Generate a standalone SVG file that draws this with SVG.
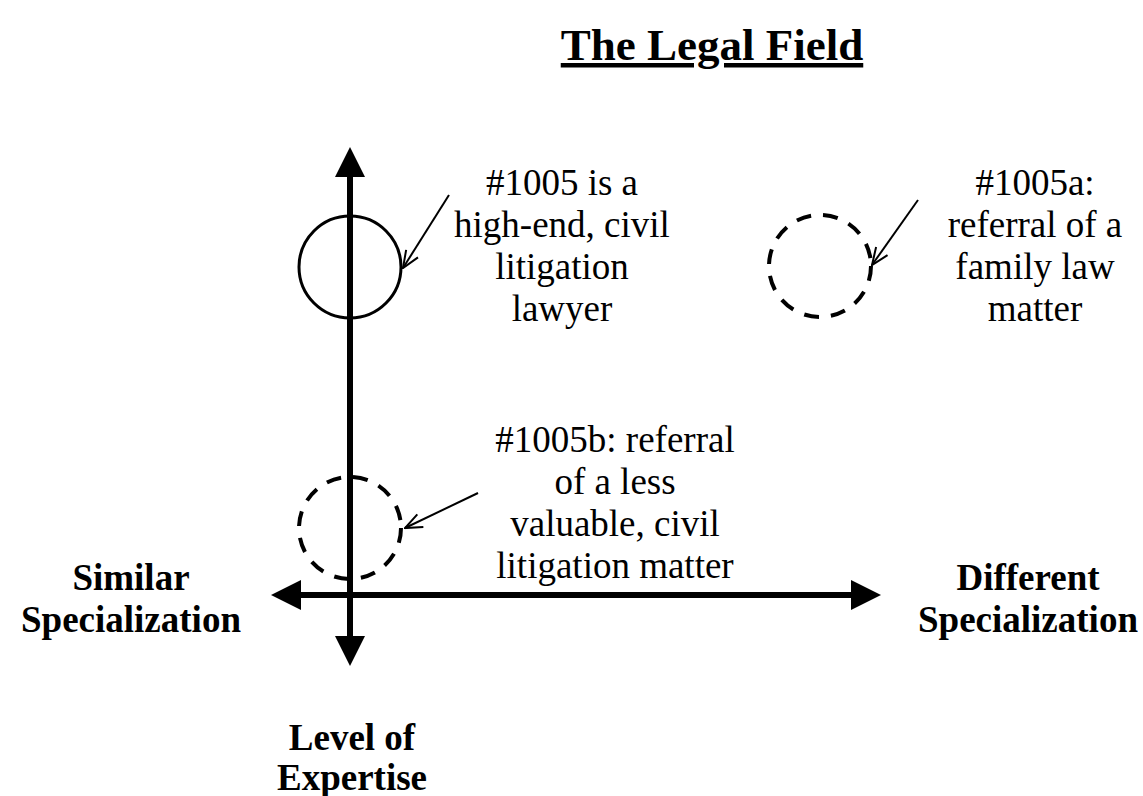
<svg xmlns="http://www.w3.org/2000/svg" width="1143" height="796" viewBox="0 0 1143 796">
<style>
.t{font-family:"Liberation Serif","Times New Roman",serif;font-size:37px;fill:#000;text-anchor:middle}
.b{font-family:"Liberation Serif","Times New Roman",serif;font-size:37px;font-weight:bold;fill:#000;text-anchor:middle}
.axis{stroke:#000;stroke-width:6;fill:none}
.ptr{stroke:#000;stroke-width:2;fill:none}
.dash{stroke:#000;stroke-width:4;fill:none;stroke-dasharray:15 12}
</style>
<defs>
<marker id="open" viewBox="0 0 20 20" refX="19" refY="10" markerWidth="20" markerHeight="20" markerUnits="userSpaceOnUse" orient="auto">
<path d="M2,3 L19,10 L2,17" fill="none" stroke="#000" stroke-width="2"/>
</marker>
</defs>
<rect width="1143" height="796" fill="#fff"/>
<g id="title">
<text x="712" y="60" class="b" style="font-size:45px" text-decoration="underline">The Legal Field</text>
</g>
<g id="connectors">
<line class="axis" x1="350" y1="170" x2="350" y2="642"/>
<polygon points="350,147 335,177 365,177"/>
<polygon points="350,666 335,636 365,636"/>
<line class="axis" x1="294" y1="595" x2="858" y2="595"/>
<polygon points="271,595 301,580 301,610"/>
<polygon points="881,595 851,580 851,610"/>
<line class="ptr" x1="449" y1="195" x2="403" y2="268" marker-end="url(#open)"/>
<line class="ptr" x1="918" y1="200" x2="872" y2="265" marker-end="url(#open)"/>
<line class="ptr" x1="478" y1="493" x2="405" y2="528" marker-end="url(#open)"/>
</g>
<g id="node-1005">
<circle cx="350" cy="267" r="51" fill="none" stroke="#000" stroke-width="3"/>
<text class="t"><tspan x="562" y="195">#1005 is a</tspan><tspan x="562" y="237">high-end, civil</tspan><tspan x="562" y="279">litigation</tspan><tspan x="562" y="321">lawyer</tspan></text>
</g>
<g id="node-1005a">
<circle class="dash" cx="820" cy="266" r="51"/>
<text class="t"><tspan x="1035" y="195">#1005a:</tspan><tspan x="1035" y="237">referral of a</tspan><tspan x="1035" y="279">family law</tspan><tspan x="1035" y="321">matter</tspan></text>
</g>
<g id="node-1005b">
<circle class="dash" cx="350" cy="528" r="51"/>
<text class="t"><tspan x="615" y="452">#1005b: referral</tspan><tspan x="615" y="494">of a less</tspan><tspan x="615" y="536">valuable, civil</tspan><tspan x="615" y="578">litigation matter</tspan></text>
</g>
<g id="label-similar">
<text class="b"><tspan x="131" y="590">Similar</tspan><tspan x="131" y="632">Specialization</tspan></text>
</g>
<g id="label-different">
<text class="b"><tspan x="1028" y="590">Different</tspan><tspan x="1028" y="632">Specialization</tspan></text>
</g>
<g id="label-level">
<text class="b"><tspan x="352" y="750">Level of</tspan><tspan x="352" y="790">Expertise</tspan></text>
</g>
</svg>
